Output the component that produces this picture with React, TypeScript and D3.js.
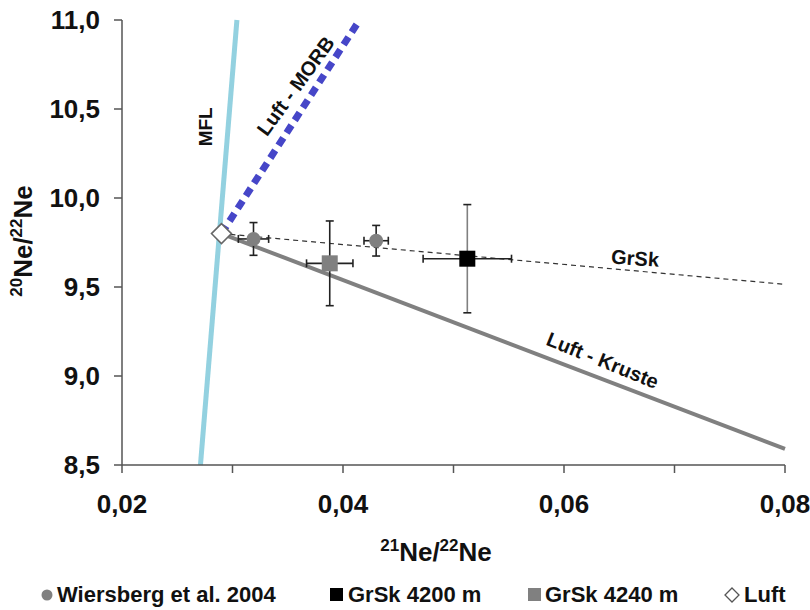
import React from 'react';
import * as d3 from 'd3';

// ---- data ----
const xTickValues = [0.02, 0.03, 0.04, 0.05, 0.06, 0.07, 0.08];
const xLabelValues = [0.02, 0.04, 0.06, 0.08];
const yTickValues = [8.5, 9.0, 9.5, 10.0, 10.5, 11.0];

const luft = [{ x: 0.029, y: 9.8 }];
const wiersberg = [
  { x: 0.0319, y: 9.77, ex: 0.00137, ey: 0.092 },
  { x: 0.043, y: 9.76, ex: 0.0011, ey: 0.086 },
];
const grsk4240 = [{ x: 0.0388, y: 9.633, ex: 0.0021, ey: 0.238 }];
const grsk4200 = [{ x: 0.05125, y: 9.659, ex: 0.004, ey: 0.304 }];

const mflLine: [number, number][] = [[0.0271, 8.5], [0.0304, 11.0]];
const morbLine: [number, number][] = [[0.029, 9.8], [0.0415, 11.0]];
const krusteLine: [number, number][] = [[0.029, 9.8], [0.08, 8.59]];
const grskLine: [number, number][] = [[0.029, 9.8], [0.08, 9.515]];

const legendItems = ['Wiersberg et al. 2004', 'GrSk 4200 m', 'GrSk 4240 m', 'Luft'];

const W = 810, H = 610;
const FONT = '"Liberation Sans", Arial, sans-serif';

export default function App() {
  const x = d3.scaleLinear().domain([0.02, 0.08]).range([122, 785]);
  const y = d3.scaleLinear().domain([8.5, 11.0]).range([465, 20]);
  const line = d3.line<[number, number]>().x(d => x(d[0])).y(d => y(d[1]));
  const fx = (v: number) => d3.format('.2f')(v).replace('.', ',');
  const fy = (v: number) => d3.format('.1f')(v).replace('.', ',');

  const errBars = (pts: any[], vColor: string) =>
    pts.map((p, i) => {
      const cx = x(p.x), cy = y(p.y);
      const x0 = x(p.x - p.ex), x1 = x(p.x + p.ex);
      const y0 = y(p.y - p.ey), y1 = y(p.y + p.ey);
      return (
        <g key={i} fill="none" strokeWidth={1.6}>
          <line x1={cx} x2={cx} y1={y0} y2={y1} stroke={vColor} />
          <line x1={cx - 4} x2={cx + 4} y1={y0} y2={y0} stroke="#222" />
          <line x1={cx - 4} x2={cx + 4} y1={y1} y2={y1} stroke="#222" />
          <line x1={x0} x2={x1} y1={cy} y2={cy} stroke="#222" />
          <line x1={x0} x2={x0} y1={cy - 4} y2={cy + 4} stroke="#222" />
          <line x1={x1} x2={x1} y1={cy - 4} y2={cy + 4} stroke="#222" />
        </g>
      );
    });

  const label = (text: string, dx: number, dy: number, angle: number, size: number) => (
    <text
      transform={`translate(${x(dx)},${y(dy)}) rotate(${angle})`}
      textAnchor="middle"
      dominantBaseline="middle"
      fontSize={size}
      fontWeight="bold"
      fill="#111"
    >
      {text}
    </text>
  );

  const diamond = (cx: number, cy: number, r: number) =>
    `M${cx},${cy - r} L${cx + r},${cy} L${cx},${cy + r} L${cx - r},${cy} Z`;

  return (
    <svg width={W} height={H} style={{ position: 'absolute', left: 0, top: 0, background: '#fff' }} fontFamily={FONT}>
      <rect width={W} height={H} fill="#fff" />

      {/* reference lines */}
      <path d={line(mflLine) || ''} stroke="#93d1e0" strokeWidth={5} fill="none" />
      <path d={line(krusteLine) || ''} stroke="#808080" strokeWidth={4} fill="none" />
      <path d={line(grskLine) || ''} stroke="#333" strokeWidth={1.2} strokeDasharray="5,4" fill="none" />
      <path d={line(morbLine) || ''} stroke="#4646c8" strokeWidth={7} strokeDasharray="9,6" fill="none" />

      {/* line labels */}
      {label('MFL', 0.0277, 10.40, -90, 19)}
      {label('Luft - MORB', 0.03584, 10.624, -54, 20)}
      {label('GrSk', 0.06643, 9.652, 4, 20)}
      {label('Luft - Kruste', 0.06344, 9.079, 22, 20)}

      {/* axes */}
      <g stroke="#555" strokeWidth={1.5}>
        <line x1={x(0.02)} x2={x(0.02)} y1={y(11)} y2={y(8.5)} />
        <line x1={x(0.02)} x2={x(0.08)} y1={y(8.5)} y2={y(8.5)} />
        {yTickValues.map(v => (
          <line key={'yt' + v} x1={x(0.02) - 8} x2={x(0.02)} y1={y(v)} y2={y(v)} />
        ))}
        {xTickValues.map(v => (
          <line key={'xt' + v} x1={x(v)} x2={x(v)} y1={y(8.5)} y2={y(8.5) + 8} />
        ))}
      </g>
      {yTickValues.map(v => (
        <text key={'yl' + v} x={100} y={y(v) + 9} textAnchor="end" fontSize={26} fontWeight="bold" fill="#111">
          {fy(v)}
        </text>
      ))}
      {xLabelValues.map(v => (
        <text key={'xl' + v} x={x(v)} y={513} textAnchor="middle" fontSize={26} fontWeight="bold" fill="#111">
          {fx(v)}
        </text>
      ))}

      {/* axis titles */}
      <text x={436} y={561} textAnchor="middle" fontSize={26} fontWeight="bold" fill="#111">
        <tspan fontSize={17} dy={-10}>21</tspan>
        <tspan dy={10}>Ne/</tspan>
        <tspan fontSize={17} dy={-10}>22</tspan>
        <tspan dy={10}>Ne</tspan>
      </text>
      <text transform="translate(32,241) rotate(-90)" textAnchor="middle" fontSize={26} fontWeight="bold" fill="#111">
        <tspan fontSize={17} dy={-10}>20</tspan>
        <tspan dy={10}>Ne/</tspan>
        <tspan fontSize={17} dy={-10}>22</tspan>
        <tspan dy={10}>Ne</tspan>
      </text>

      {/* error bars */}
      {errBars(wiersberg, '#222')}
      {errBars(grsk4240, '#222')}
      {errBars(grsk4200, '#808080')}

      {/* markers */}
      {wiersberg.map((p, i) => (
        <circle key={'w' + i} cx={x(p.x)} cy={y(p.y)} r={7} fill="#808080" />
      ))}
      {grsk4240.map((p, i) => (
        <rect key={'g' + i} x={x(p.x) - 8} y={y(p.y) - 8} width={16} height={16} fill="#808080" />
      ))}
      {grsk4200.map((p, i) => (
        <rect key={'b' + i} x={x(p.x) - 8} y={y(p.y) - 8} width={16} height={16} fill="#000" />
      ))}
      {luft.map((p, i) => (
        <path key={'l' + i} d={diamond(x(p.x), y(p.y), 10)} fill="#fff" stroke="#666" strokeWidth={1.5} />
      ))}

      {/* legend */}
      <g fontSize={22} fontWeight="bold" fill="#111">
        <circle cx={47} cy={595} r={5.5} fill="#808080" />
        <text x={57} y={602}>{legendItems[0]}</text>
        <rect x={330} y={588} width={13} height={13} fill="#000" />
        <text x={348} y={602}>{legendItems[1]}</text>
        <rect x={528} y={588} width={13} height={13} fill="#808080" />
        <text x={545} y={602}>{legendItems[2]}</text>
        <path d={diamond(732, 595, 7)} fill="#fff" stroke="#555" strokeWidth={1.3} />
        <text x={744} y={602}>{legendItems[3]}</text>
      </g>
    </svg>
  );
}
